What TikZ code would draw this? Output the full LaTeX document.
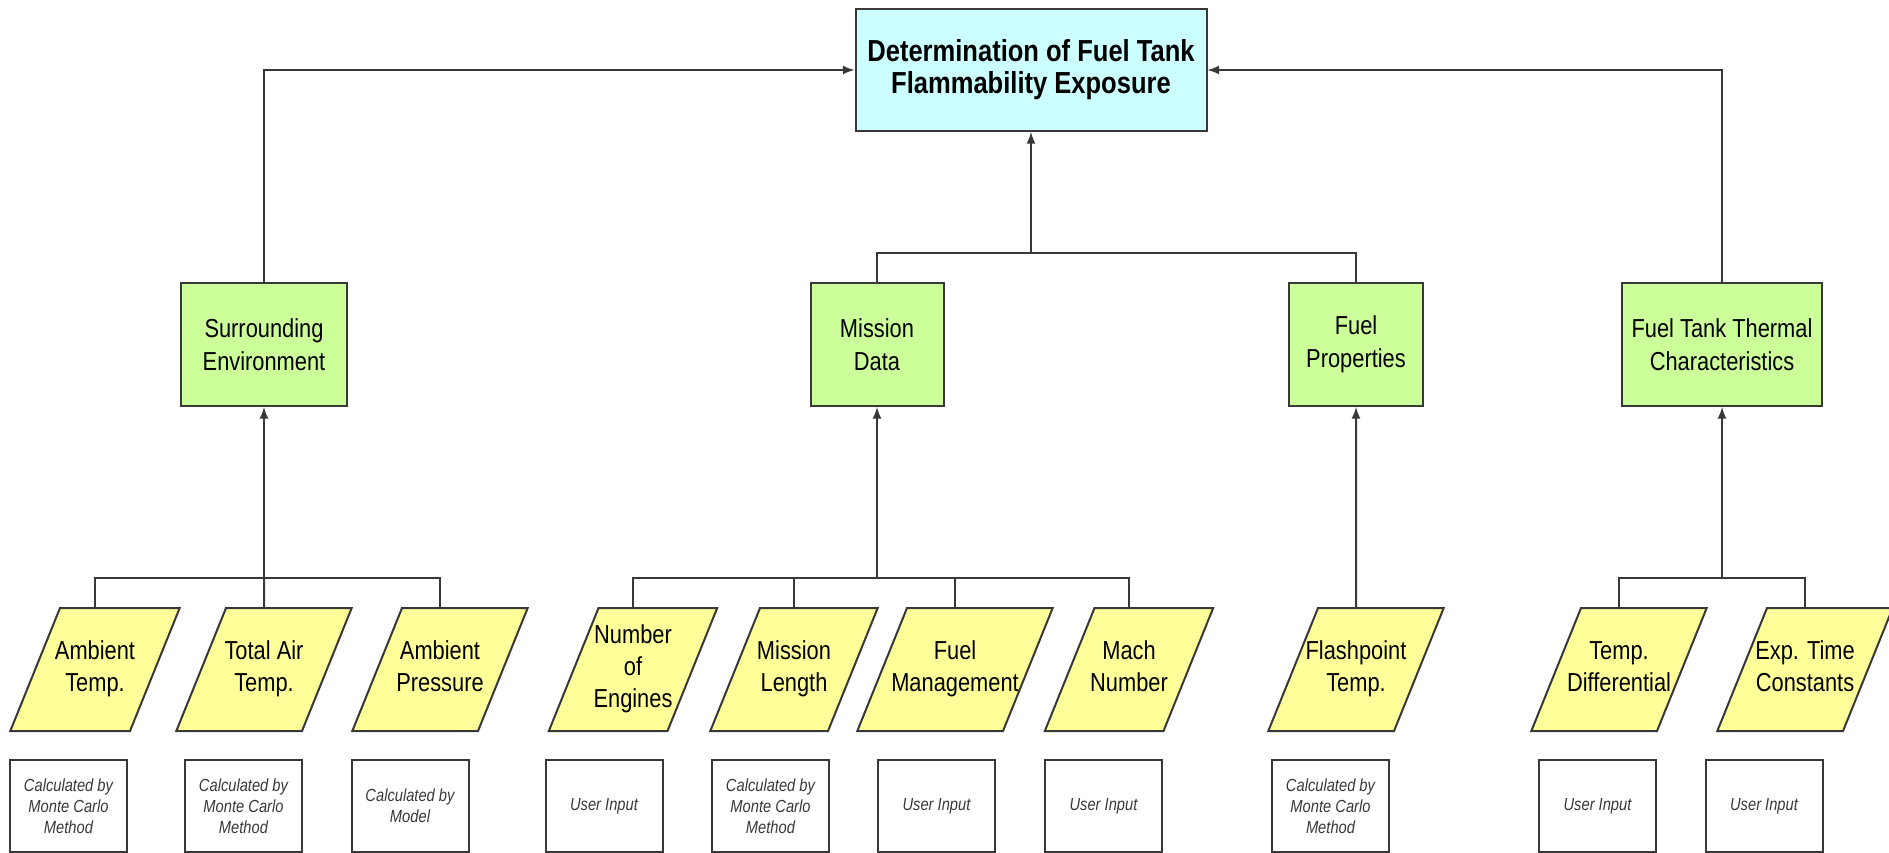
\documentclass[tikz,border=0pt]{standalone}
\usepackage{fontspec}
\setmainfont{Liberation Sans}
\newfontfamily\narrowsans[FakeStretch=0.84]{Liberation Sans}
\usepackage{xcolor}
\usepackage{tikz}
\usetikzlibrary{shapes.geometric}
\usetikzlibrary{calc}
\definecolor{topcyan}{HTML}{CCFFFF}
\definecolor{boxgreen}{HTML}{CCFF99}
\definecolor{inyellow}{HTML}{FFFF99}
\definecolor{linegray}{HTML}{383838}
\newcommand{\yin}[2][38pt]{\vbox to 61.5pt{\vss\hbox to #1{\hss\begin{tabular}{@{}c@{}}#2\end{tabular}\hss}\vss}}

\begin{document}
\begin{tikzpicture}[x=0.5pt,y=-0.5pt,line width=1pt,
        goal/.style={draw=linegray,fill=topcyan,inner sep=0pt,minimum width=175.5pt,minimum height=61pt,align=center,font=\narrowsans\bfseries\fontsize{15.2}{16}\selectfont},
        factor/.style={draw=linegray,fill=boxgreen,inner sep=0pt,minimum height=61.5pt,align=center,font=\narrowsans\fontsize{13}{16.5}\selectfont},
        datain/.style={trapezium,trapezium left angle=68,trapezium right angle=112,draw=linegray,fill=inyellow,inner sep=0pt,font=\narrowsans\fontsize{13}{16}\selectfont},
        source/.style={draw=linegray,inner sep=0pt,minimum width=58.5pt,minimum height=46pt,align=center,text=linegray,font=\narrowsans\itshape\fontsize{8.75}{10.5}\selectfont},
        link/.style={draw=linegray}]
        \useasboundingbox (0,0) rectangle (1889,852);
        \node[goal] (top) at (1031,70) {Determination of Fuel Tank\\Flammability Exposure};
        \node[factor,minimum width=83pt] (env) at (264,344.5) {Surrounding\\Environment};
        \node[factor,minimum width=66.5pt] (mis) at (877,344.5) {Mission\\Data};
        \node[factor,minimum width=67pt] (fp) at (1356,344.5) {Fuel\\Properties};
        \node[factor,minimum width=100pt] (ftt) at (1722,344.5) {Fuel Tank Thermal\\Characteristics};
        \node[datain] (at) at (95,669.5) {\yin[35pt]{Ambient\\Temp.}};
        \node[datain] (tat) at (264,669.5) {\yin{Total Air\\Temp.}};
        \node[datain] (ap) at (440,669.5) {\yin{Ambient\\Pressure}};
        \node[datain] (ne) at (633,669.5) {\yin[34.5pt]{Number\\of\\Engines}};
        \node[datain] (ml) at (794,669.5) {\yin[34pt]{Mission\\Length}};
        \node[datain] (fm) at (955,669.5) {\yin[48pt]{Fuel\\Management}};
        \node[datain] (mn) at (1129,669.5) {\yin[34.5pt]{Mach\\Number}};
        \node[datain] (ft) at (1356,669.5) {\yin{Flashpoint\\Temp.}};
        \node[datain] (td) at (1619,669.5) {\yin{Temp.\\Differential}};
        \node[datain] (et) at (1805,669.5) {\yin{Exp. Time\\Constants}};
        \node[source] (s1) at (68.5,806) {Calculated by\\Monte Carlo\\Method};
        \node[source] (s2) at (243.5,806) {Calculated by\\Monte Carlo\\Method};
        \node[source] (s3) at (410,806) {Calculated by\\Model};
        \node[source] (s4) at (604,806) {User Input};
        \node[source] (s5) at (770.5,806) {Calculated by\\Monte Carlo\\Method};
        \node[source] (s6) at (936.5,806) {User Input};
        \node[source] (s7) at (1103.5,806) {User Input};
        \node[source] (s8) at (1330.5,806) {Calculated by\\Monte Carlo\\Method};
        \node[source] (s9) at (1597.5,806) {User Input};
        \node[source] (s10) at (1764,806) {User Input};
        \coordinate (jm) at (1031,253);
        \coordinate (be) at (264,578);
        \coordinate (bm) at (877,578);
        \coordinate (bt) at (1722,578);
        \draw[link,-latex] (env.north) |- (top.west);
        \draw[link,-latex] (ftt.north) |- (top.east);
        \draw[link] (mis.north) |- (jm) -| (fp.north);
        \draw[link,-latex] (jm) -- (top.south);
        \draw[link] (at.north) |- (be) -| (ap.north);
        \draw[link] (tat.north) -- (be);
        \draw[link,-latex] (be) -- (env.south);
        \draw[link] (ne.north) |- (bm) -| (mn.north);
        \draw[link] (ml.north) -- (ml.north |- bm);
        \draw[link] (fm.north) -- (fm.north |- bm);
        \draw[link,-latex] (bm) -- (mis.south);
        \draw[link,-latex] (ft.north) -- (fp.south);
        \draw[link] (td.north) |- (bt) -| (et.north);
        \draw[link,-latex] (bt) -- (ftt.south);
    \end{tikzpicture}
\end{document}
